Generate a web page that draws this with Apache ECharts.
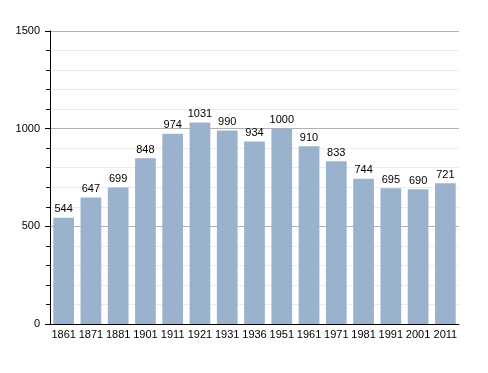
<!DOCTYPE html>
<html><head><meta charset="utf-8">
<script src="https://cdn.jsdelivr.net/npm/echarts@6/dist/echarts.min.js"></script>
<style>html,body{margin:0;padding:0;background:#fff}#c{width:488px;height:373px}</style>
</head><body><div id="c"></div>
<script>
const categories = ['1861','1871','1881','1901','1911','1921','1931','1936','1951','1961','1971','1981','1991','2001','2011'];
const population = [544,647,699,848,974,1031,990,934,1000,910,833,744,695,690,721];
const yTicks = [0,500,1000,1500];

const chart = echarts.init(document.getElementById('c'), null, {renderer:'canvas'});
chart.setOption({
  animation:false,
  grid:{left:50,right:29,top:31,bottom:49},
  xAxis:{type:'category',data:categories,
    axisLine:{lineStyle:{color:'#000',width:1}},
    axisTick:{show:false},
    axisLabel:{interval:0,color:'#000',fontSize:11,fontFamily:'Liberation Sans, Arial',margin:5}
  },
  yAxis:{type:'value',min:yTicks[0],max:yTicks[yTicks.length-1],interval:500,
    axisLine:{show:true,lineStyle:{color:'#000',width:1}},
    axisTick:{show:true,length:5,lineStyle:{color:'#000'}},
    minorTick:{show:true,splitNumber:5,length:4,lineStyle:{color:'#000'}},
    axisLabel:{color:'#000',fontSize:11,fontFamily:'Liberation Sans, Arial',margin:10,formatter:v=>String(v)},
    splitLine:{show:true,lineStyle:{color:'#b0b0b0',width:1}},
    minorSplitLine:{show:true,lineStyle:{color:'#ececec',width:1}}
  },
  series:[{type:'bar',data:population,barCategoryGap:'24%',
    itemStyle:{color:'#9ab2cd'},
    label:{show:true,position:'top',distance:3,color:'#000',fontSize:11,fontFamily:'Liberation Sans, Arial'}
  }]
});
</script></body></html>
